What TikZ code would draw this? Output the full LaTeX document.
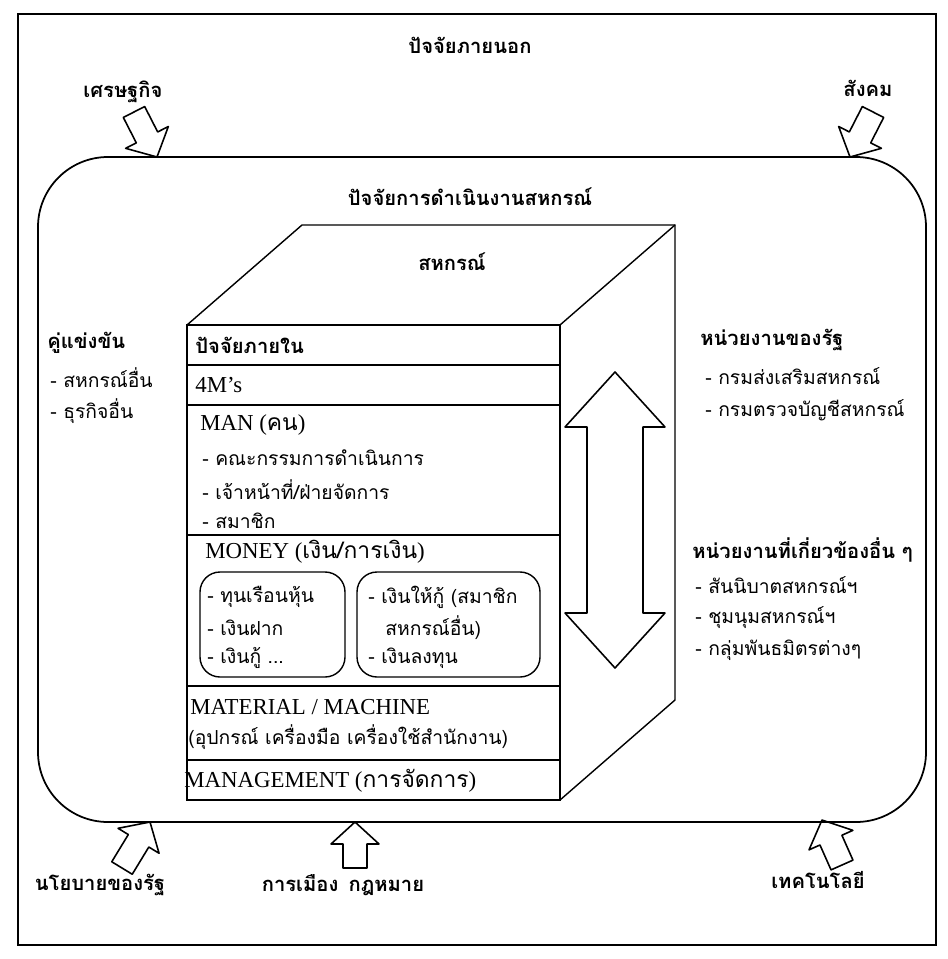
\documentclass[tikz,border=0pt]{standalone}
\usepackage{fontspec}
\setmainfont{Liberation Serif}
\newfontfamily\thaifont[Script=Thai]{Loma}
\usetikzlibrary{calc}

% hollow block arrow from tail #1 to tip #2
\newcommand{\blockarrow}[2]{%
  \coordinate (ba-h) at ($(#2)!0.44cm!(#1)$);
  \draw[blockline] ($(#1)!0.24cm!90:(#2)$) -- ($(ba-h)!0.24cm!-90:(#1)$)
    -- ($(ba-h)!0.48cm!-90:(#1)$) -- (#2) -- ($(ba-h)!0.48cm!90:(#1)$)
    -- ($(ba-h)!0.24cm!90:(#1)$) -- ($(#1)!0.24cm!-90:(#2)$) -- cycle;}

\begin{document}
\begin{tikzpicture}[x=0.02cm, y=-0.02cm,
    every node/.style={inner sep=0pt},
    th/.style={font=\fontsize{11}{13}\thaifont, anchor=west},
    thb/.style={font=\fontsize{11.5}{13}\thaifont\bfseries},
    en/.style={font=\fontsize{13}{15}\selectfont, anchor=west},
    blockline/.style={line width=0.9pt, line join=round},
    frame/.style={line width=1pt}]
    \useasboundingbox (0,0) rectangle (947,959);

    % outer frame and operating area
    \draw[frame] (18,14) rectangle (936,945);
    \draw[frame, rounded corners=1.4cm] (38,157) rectangle (926,822);

    \node[thb] (ext) at (470,45) {ปัจจัยภายนอก};
    \node[thb] (eco) at (123,92) {เศรษฐกิจ};
    \node[thb] (soc) at (868,88) {สังคม};
    \node[thb] (ops) at (470,197) {ปัจจัยการดำเนินงานสหกรณ์};

    % arrows from the outside
    \coordinate (eco-t) at (134,112);  \coordinate (eco-h) at (157,157);
    \coordinate (soc-t) at (873,112);  \coordinate (soc-h) at (850,157);
    \coordinate (pol-t) at (122,868);  \coordinate (pol-h) at (150,822);
    \coordinate (law-t) at (355,868);  \coordinate (law-h) at (355,822);
    \coordinate (tec-t) at (842,865);  \coordinate (tec-h) at (822,820);
    \blockarrow{eco-t}{eco-h}
    \blockarrow{soc-t}{soc-h}
    \blockarrow{pol-t}{pol-h}
    \blockarrow{law-t}{law-h}
    \blockarrow{tec-t}{tec-h}

    \node[thb] (pol) at (100,885) {นโยบายของรัฐ};
    \node[thb] (law) at (343,885) {การเมือง\enspace กฎหมาย};
    \node[thb] (tec) at (818,880) {เทคโนโลยี};

    % the cooperative block
    \draw[line width=0.8pt] (187,325) -- (302,225) -- (675,225) -- (675,700) -- (560,800);
    \draw[line width=0.8pt] (560,325) -- (675,225);
    \draw[line width=0.8pt] (187,325) rectangle (560,800);
    \foreach \y in {365,405,535,686,760}
        \draw[line width=0.8pt] (187,\y) -- (560,\y);
    \node[thb] (coop) at (452,262) {สหกรณ์};

    % up-down arrow on the side face
    \draw[blockline] (615,372) -- (665,427) -- (643,427) -- (643,613) -- (665,613)
        -- (615,668) -- (565,613) -- (587,613) -- (587,427) -- (565,427) -- cycle;

    % rows of the front face
    \node[thb, anchor=west] (inner) at (195,345) {ปัจจัยภายใน};
    \node[en] (fourm) at (195,385) {4M's};
    \node[en] (man) at (200,425) {MAN ({\thaifont คน})};
    \node[th] (man1) at (202,458) {- คณะกรรมการดำเนินการ};
    \node[th] (man2) at (202,490) {- เจ้าหน้าที่/ฝ่ายจัดการ};
    \node[th] (man3) at (202,521) {- สมาชิก};
    \node[en] (money) at (205,552) {MONEY ({\thaifont เงิน/การเงิน})};
    \draw[line width=0.8pt, rounded corners=0.4cm] (200,572) rectangle (345,677);
    \draw[line width=0.8pt, rounded corners=0.4cm] (357,572) rectangle (540,677);
    \node[th] (fund1) at (207,597) {- ทุนเรือนหุ้น};
    \node[th] (fund2) at (207,628) {- เงินฝาก};
    \node[th] (fund3) at (207,658) {- เงินกู้ ...};
    \node[th] (use1) at (368,597) {- เงินให้กู้ (สมาชิก};
    \node[th] (use2) at (385,628) {สหกรณ์อื่น)};
    \node[th] (use3) at (368,658) {- เงินลงทุน};
    \node[en] (mat) at (190,707) {MATERIAL / MACHINE};
    \node[th] (mat1) at (188,737) {(อุปกรณ์ เครื่องมือ เครื่องใช้สำนักงาน)};
    \node[en] (mgt) at (184,781) {MANAGEMENT ({\thaifont การจัดการ})};

    % side notes
    \node[thb, anchor=west] (comp) at (47,343) {คู่แข่งขัน};
    \node[th] (comp1) at (50,378) {- สหกรณ์อื่น};
    \node[th] (comp2) at (50,411) {- ธุรกิจอื่น};
    \node[thb, anchor=west] (gov) at (700,340) {หน่วยงานของรัฐ};
    \node[th] (gov1) at (705,376) {- กรมส่งเสริมสหกรณ์};
    \node[th] (gov2) at (705,410) {- กรมตรวจบัญชีสหกรณ์};
    \node[thb, anchor=west] (oth) at (692,550) {หน่วยงานที่เกี่ยวข้องอื่น ๆ};
    \node[th] (oth1) at (695,585) {- สันนิบาตสหกรณ์ฯ};
    \node[th] (oth2) at (695,618) {- ชุมนุมสหกรณ์ฯ};
    \node[th] (oth3) at (695,650) {- กลุ่มพันธมิตรต่างๆ};
\end{tikzpicture}
\end{document}
